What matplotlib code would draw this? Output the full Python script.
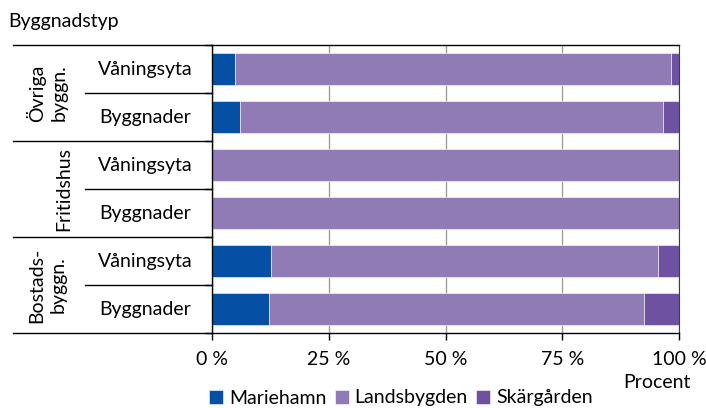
import matplotlib as mpl
mpl.use('Agg')
from matplotlib import pyplot as plt
import numpy as np

mpl.rcParams['font.family'] = ['Lato', 'DejaVu Sans']
mpl.rcParams['font.size'] = 14

# rows from top to bottom
groups = ['Övriga\nbyggn.', 'Fritidshus', 'Bostads-\nbyggn.']
subrows = ['Våningsyta', 'Byggnader']
series = ['Mariehamn', 'Landsbygden', 'Skärgården']
mariehamn = [5.0, 6.1, 0.0, 0.0, 12.7, 12.1]
landsbygden = [93.2, 90.5, 100.0, 100.0, 82.9, 80.5]
skargarden = [1.8, 3.4, 0.0, 0.0, 4.4, 7.4]
colors = ['#0550A5', '#907BB7', '#6E51A0']
xticks = [0, 25, 50, 75, 100]

fig = plt.figure(figsize=(7.06, 4.08), dpi=100)
ax = fig.add_axes([212/706, 1-333/408, 467/706, 288/408])

y = np.arange(len(mariehamn))
left = np.zeros(len(y))
for vals, col, lab in zip([mariehamn, landsbygden, skargarden], colors, series):
    ax.barh(y, vals, left=left, color=col, height=0.675, edgecolor='white',
            linewidth=0.4, label=lab, zorder=2)
    left += np.array(vals)

ax.set_ylim(len(y)-0.5, -0.5)
ax.set_xlim(0, 100)
ax.set_yticks(np.arange(len(y)+1)-0.5)
ax.set_yticklabels([])
ax.tick_params(axis='y', direction='out', length=5, width=1)
ax.set_xticks(xticks)
ax.set_xticklabels(['%d %%' % t for t in xticks])
ax.tick_params(axis='x', direction='out', length=5, width=1, pad=8)
ax.xaxis.grid(True, color='#a0a0a0', linewidth=1, zorder=0)
ax.set_axisbelow(True)
for s in ['left', 'bottom', 'top']:
    ax.spines[s].set_color('black')
    ax.spines[s].set_linewidth(1)
ax.spines['right'].set_color('#404040')

# label table on the left
x_out = (13-212)/467
x_in = (85-212)/467
for i in range(len(groups)+1):
    ax.plot([x_out, 0], [i*2-0.5, i*2-0.5], color='black', lw=1,
            transform=ax.get_yaxis_transform(), clip_on=False)
for i in range(len(groups)):
    ax.plot([x_in, 0], [i*2+0.5, i*2+0.5], color='black', lw=1,
            transform=ax.get_yaxis_transform(), clip_on=False)
    ax.text(-0.353 if i != 1 else -0.318, i*2+0.5, groups[i], rotation=90,
            ha='center', va='center', linespacing=1.3,
            transform=ax.get_yaxis_transform())
    for j, sub in enumerate(subrows):
        ax.text(-0.143, i*2+j, sub, ha='center', va='center',
                transform=ax.get_yaxis_transform())

fig.text(8/706, 1-21/408, 'Byggnadstyp', ha='left', va='center')
fig.text(691/706, 1-383/408, 'Procent', ha='right', va='center')

ax.legend(loc='center', bbox_to_anchor=(401/706, 1-398/408),
          bbox_transform=fig.transFigure, ncol=3, frameon=False,
          handlelength=0.7, handleheight=0.7, handletextpad=0.3,
          columnspacing=0.45, borderpad=0)

fig.savefig('out.png', dpi=100)
